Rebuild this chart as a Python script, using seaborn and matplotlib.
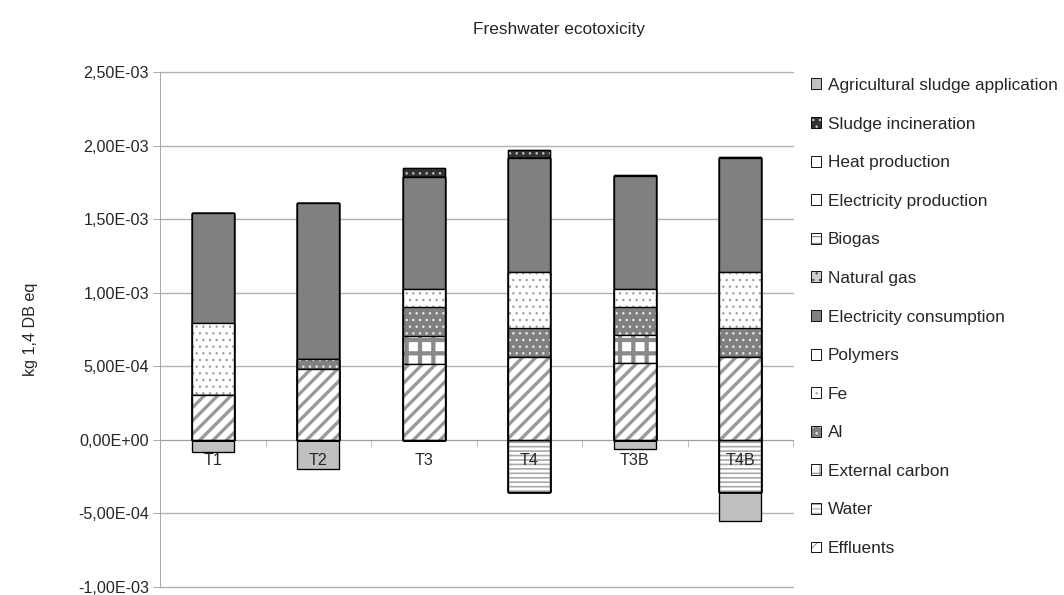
import matplotlib
matplotlib.use("Agg")
import matplotlib.pyplot as plt
import matplotlib.ticker as mticker
from matplotlib.colors import to_rgba
from matplotlib.patches import Patch
import numpy as np
import seaborn as sns

scenarios = ["T1", "T2", "T3", "T4", "T3B", "T4B"]

# contributions in kg 1,4 DB eq
effluents = [3.08e-4, 4.84e-4, 5.19e-4, 5.60e-4, 5.21e-4, 5.60e-4]
water = [0.0, 0.0, 0.0, -3.54e-4, 0.0, -3.54e-4]
external_carbon = [0.0, 0.0, 1.86e-4, 0.0, 1.89e-4, 0.0]
al = [0.0, 0.69e-4, 1.97e-4, 2.00e-4, 1.94e-4, 2.00e-4]
fe = [4.89e-4, 0.0, 1.23e-4, 3.80e-4, 1.23e-4, 3.80e-4]
polymers = [0.0, 0.0, 0.0, 0.0, 0.0, 0.0]
electricity_consumption = [7.44e-4, 10.57e-4, 7.60e-4, 7.75e-4, 7.65e-4, 7.76e-4]
natural_gas = [0.0, 0.0, 0.0, 0.0, 0.0, 0.0]
biogas = [0.0, 0.0, 0.0, 0.0, 0.0, 0.0]
electricity_production = [0.0, 0.0, 0.0, 0.0, 0.0, 0.0]
heat_production = [0.0, 0.0, 0.0, 0.0, 0.0, 0.0]
sludge_incineration = [0.0, 0.0, 0.62e-4, 0.52e-4, 0.08e-4, 0.08e-4]
agricultural_sludge = [-0.82e-4, -1.97e-4, 0.0, 0.0, -0.64e-4, -1.94e-4]

# stacking order, bottom first: (label, values, face, hatch, hatch colour, hatch width)
series = [
    ("Effluents", effluents, "white", "//", "#9a9a9a", 3.0),
    ("Water", water, "white", "---", "#a8a8a8", 1.5),
    ("External carbon", external_carbon, "white", "+", "#8a8a8a", 3.8),
    ("Al", al, "#808080", "..", "#e8e8e8", 1.0),
    ("Fe", fe, "white", "..", "#a0a0a0", 1.0),
    ("Polymers", polymers, "white", "", "black", 1.0),
    ("Electricity consumption", electricity_consumption, "#808080", "", "black", 1.0),
    ("Natural gas", natural_gas, "#d0d0d0", "..", "#555555", 1.0),
    ("Biogas", biogas, "white", "--", "#808080", 1.5),
    ("Electricity production", electricity_production, "white", "-", "#a0a0a0", 1.5),
    ("Heat production", heat_production, "white", "", "black", 1.0),
    ("Sludge incineration", sludge_incineration, "#333333", "..", "#c8c8c8", 1.0),
    ("Agricultural sludge application", agricultural_sludge, "#c0c0c0", "", "black", 1.0),
]

legend_order = [s[0] for s in series][::-1]


def sci_comma(v, pos):
    return f"{v:.2E}".replace(".", ",")


def style_hatch(patch, colour, width):
    patch._hatch_color = to_rgba(colour)
    if hasattr(patch, "set_hatch_linewidth"):
        patch.set_hatch_linewidth(width)


def plot():
    sns.set_style("white")
    plt.rcParams["font.family"] = ["Liberation Sans", "DejaVu Sans"]

    fig = plt.figure(figsize=(13.3, 7.4375), dpi=80)
    ax = fig.add_axes([0.1504, 0.0134, 0.5949, 0.8655])

    # cumulative tops for positive and negative stacks
    pos_base = np.zeros(len(scenarios))
    neg_base = np.zeros(len(scenarios))
    layers = []
    for label, vals, face, hatch, hcol, hlw in series:
        vals = np.array(vals)
        pos_base = pos_base + np.where(vals > 0, vals, 0)
        neg_base = neg_base + np.where(vals < 0, vals, 0)
        layers.append((pos_base.copy(), neg_base.copy(), face, hatch, hcol, hlw))

    # draw from the top of the stack down so lower segments cover upper ones
    for top, bottom, face, hatch, hcol, hlw in layers[::-1]:
        for heights in (top, bottom):
            n0 = len(ax.patches)
            sns.barplot(x=scenarios, y=heights, order=scenarios, color=face,
                        saturation=1, hatch=hatch, edgecolor="black",
                        linewidth=1.2, width=0.4, errorbar=None, ax=ax)
            for p in ax.patches[n0:]:
                style_hatch(p, hcol, hlw)

    ax.set_axisbelow(False)
    ax.set_ylim(-1e-3, 2.5e-3)
    ax.set_xlim(-0.5, 5.5)
    ax.yaxis.set_major_locator(mticker.MultipleLocator(5e-4))
    ax.yaxis.set_major_formatter(mticker.FuncFormatter(sci_comma))
    for t in ax.get_yticks():
        if -1e-3 <= t <= 2.5e-3:
            ax.axhline(t, color="#b0b0b0", lw=1.2, zorder=0, clip_on=False)

    for s in ["top", "right"]:
        ax.spines[s].set_visible(False)
    ax.spines["left"].set_color("#a0a0a0")
    ax.spines["left"].set_zorder(0.5)
    ax.spines["bottom"].set_color("#a0a0a0")
    ax.spines["bottom"].set_position(("data", 0))
    ax.spines["bottom"].set_zorder(0.5)

    ax.tick_params(axis="y", which="major", length=6, color="#a0a0a0",
                   labelsize=14.5, pad=4, left=True)
    ax.tick_params(axis="x", which="major", length=0, labelsize=14.5, pad=12)
    ax.xaxis.set_minor_locator(mticker.FixedLocator(np.arange(-0.5, 6, 1)))
    ax.tick_params(axis="x", which="minor", length=6, color="#a0a0a0",
                   direction="out", bottom=True)

    ax.set_xlabel("")
    ax.set_ylabel("kg 1,4 DB eq", fontsize=14.5, labelpad=36)
    fig.text(0.525, 0.951, "Freshwater ecotoxicity", ha="center", va="center",
             fontsize=15.5)

    lookup = {s[0]: s for s in series}
    handles = []
    for name in legend_order:
        face, hatch = lookup[name][2], lookup[name][3]
        handles.append(Patch(facecolor=face, edgecolor="black", hatch=hatch,
                             linewidth=0.8))
    leg = fig.legend(handles, legend_order, loc="upper left",
                     bbox_to_anchor=(0.762, 0.869), frameon=False,
                     fontsize=15.5, handlelength=0.6, handleheight=0.6,
                     handletextpad=0.4, labelspacing=1.37,
                     borderpad=0, borderaxespad=0)
    for h, name in zip(leg.legend_handles, legend_order):
        style_hatch(h, lookup[name][4], 1.0)

    plt.savefig("out.png", dpi=80)


if __name__ == '__main__':
    plot()
